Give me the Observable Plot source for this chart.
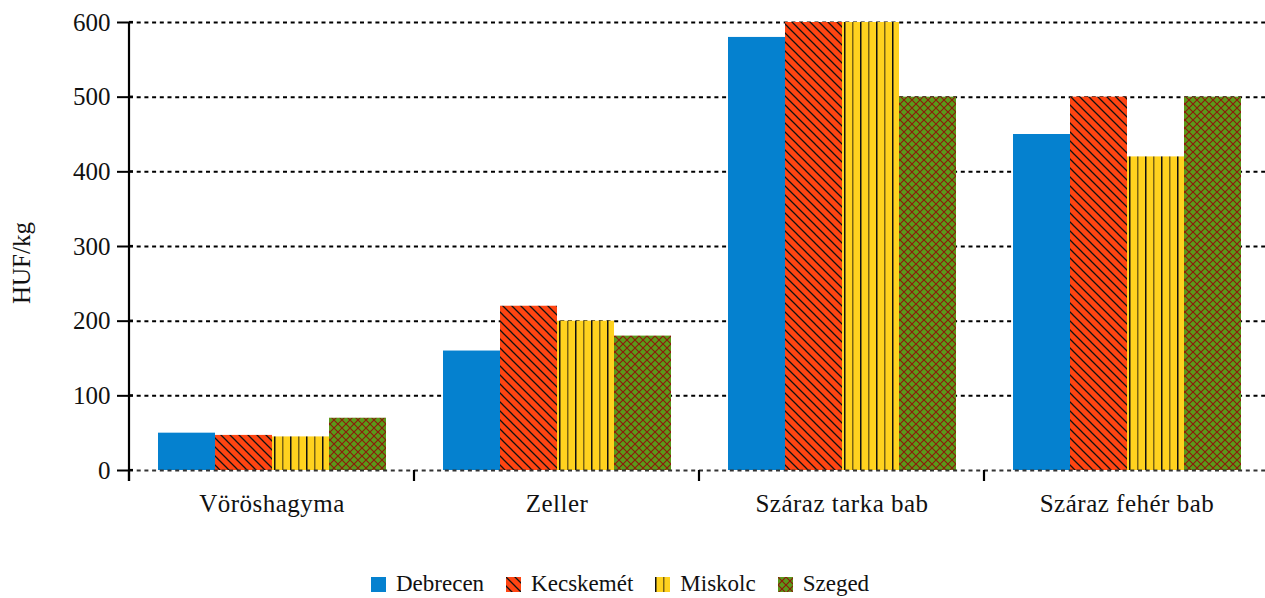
<!DOCTYPE html>
<html><head><meta charset="utf-8">
<script src="https://cdn.jsdelivr.net/npm/d3@7"></script>
<script src="https://cdn.jsdelivr.net/npm/@observablehq/plot@0.6"></script>
<style>
body{margin:0;overflow:hidden;background:#fff;font-family:"Liberation Serif","Times New Roman",serif;}
#chart svg text{font-family:"Liberation Serif","Times New Roman",serif !important;}
#legend{height:28px;padding-top:10px;display:flex;align-items:center;padding-left:371px;font-size:23px;color:#111;font-family:"Liberation Serif",serif;}
.item{display:flex;align-items:center;margin-right:22px}
.sw{width:15px;height:15px;margin-right:10px;display:block}
</style></head><body>
<svg width="0" height="0" style="position:absolute">
<defs>
<pattern id="pat-kec" patternUnits="userSpaceOnUse" width="9" height="9">
<rect width="9" height="9" fill="#FF4512"/>
<path d="M0,0L9,9M-1,8L1,10M8,-1L10,1" stroke="#111" stroke-width="1.3"/>
</pattern>
<pattern id="pat-mis" patternUnits="userSpaceOnUse" width="16" height="10">
<rect width="16" height="10" fill="#FFD21F"/>
<rect x="0" width="1.5" height="10" fill="#111"/>
<rect x="8" width="1.5" height="10" fill="#7a6414"/>
</pattern>
<pattern id="pat-sze" patternUnits="userSpaceOnUse" width="8" height="8">
<rect width="8" height="8" fill="#5A9A1A"/>
<path d="M0,0L8,8M8,0L0,8" stroke="#8B1A0A" stroke-width="1.2"/>
</pattern>
</defs>
</svg>
<div id="chart"></div><div id="legend"></div>
<script>
const categories = ["Vöröshagyma", "Zeller", "Száraz tarka bab", "Száraz fehér bab"];
const cities = ["Debrecen", "Kecskemét", "Miskolc", "Szeged"];
const debrecen = [50, 160, 580, 450];
const kecskemet = [47, 220, 600, 500];
const miskolc = [45, 200, 600, 420];
const szeged = [70, 180, 500, 500];
const yTicks = [0, 100, 200, 300, 400, 500, 600];
const yLabel = "HUF/kg";
const fills = ["#0581CF", "url(#pat-kec)", "url(#pat-mis)", "url(#pat-sze)"];

const series = [debrecen, kecskemet, miskolc, szeged];
const data = categories.flatMap((c, i) => cities.map((s, j) => ({category: c, city: s, value: series[j][i]})));

const serif = '"Liberation Serif", "Times New Roman", serif';
const plot = Plot.plot({
  width: 1270, height: 560,
  marginLeft: 127, marginRight: 0, marginTop: 22, marginBottom: 90,
  style: {fontFamily: serif, fontSize: "25px", color: "#111", background: "white", overflow: "visible", maxWidth: "none"},
  fx: {domain: categories, padding: 0, label: null},
  x: {domain: cities, paddingInner: 0, paddingOuter: 0.485, axis: null},
  y: {domain: [0, 600], label: null},
  color: {domain: cities, range: fills},
  marks: [
    Plot.ruleY(yTicks.slice(1), {stroke: "#000", strokeWidth: 2, strokeDasharray: "4,3.7"}),
    Plot.barY(data, {fx: "category", x: "city", y: "value", fill: "city"}),
    Plot.ruleY([0], {stroke: "#333", strokeWidth: 2, strokeDasharray: "4,3.7"}),
    Plot.axisY(yTicks, {tickSize: 12, tickPadding: 7, strokeWidth: 2, fontSize: 25, label: null, stroke: "#000"}),
    Plot.axisFx({anchor: "bottom", tickSize: 0, tickPadding: 24, fontSize: 25, label: null})
  ]
});
document.getElementById("chart").appendChild(plot);

const svg = d3.select(plot);
svg.selectAll("text").style("font-family", serif).attr("fill", "#111");
svg.selectAll("[aria-label='fx-axis tick label'] text").style("letter-spacing", "0.5px");
const fx = plot.scale("fx"), y = plot.scale("y");
const y0 = y.apply(0), yTop = y.apply(600);
const xAxis = fx.apply(categories[0]);
const g = svg.append("g").attr("stroke", "#000").attr("stroke-width", 2.2);
g.append("line").attr("x1", xAxis).attr("x2", xAxis).attr("y1", yTop).attr("y2", y0 + 11);
yTicks.forEach(t => {
  g.append("line").attr("x1", xAxis).attr("x2", xAxis + 4).attr("y1", y.apply(t)).attr("y2", y.apply(t));
});
categories.forEach(c => {
  const x = fx.apply(c);
  g.append("line").attr("x1", x).attr("x2", x).attr("y1", y0).attr("y2", y0 + 11);
});
svg.append("text").text(yLabel)
  .attr("transform", `translate(24,${(y0 + yTop) / 2 + 17}) rotate(-90)`)
  .attr("text-anchor", "middle").attr("dominant-baseline", "middle")
  .style("font-family", serif)
  .attr("font-size", 25).attr("fill", "#111");

const legend = d3.select("#legend");
cities.forEach((c, i) => {
  const item = legend.append("div").attr("class", "item");
  const sw = item.append("svg").attr("class", "sw").attr("width", 15).attr("height", 15);
  sw.append("rect").attr("width", 15).attr("height", 15).attr("fill", fills[i]);
  item.append("span").text(c);
});
</script>
</body></html>
